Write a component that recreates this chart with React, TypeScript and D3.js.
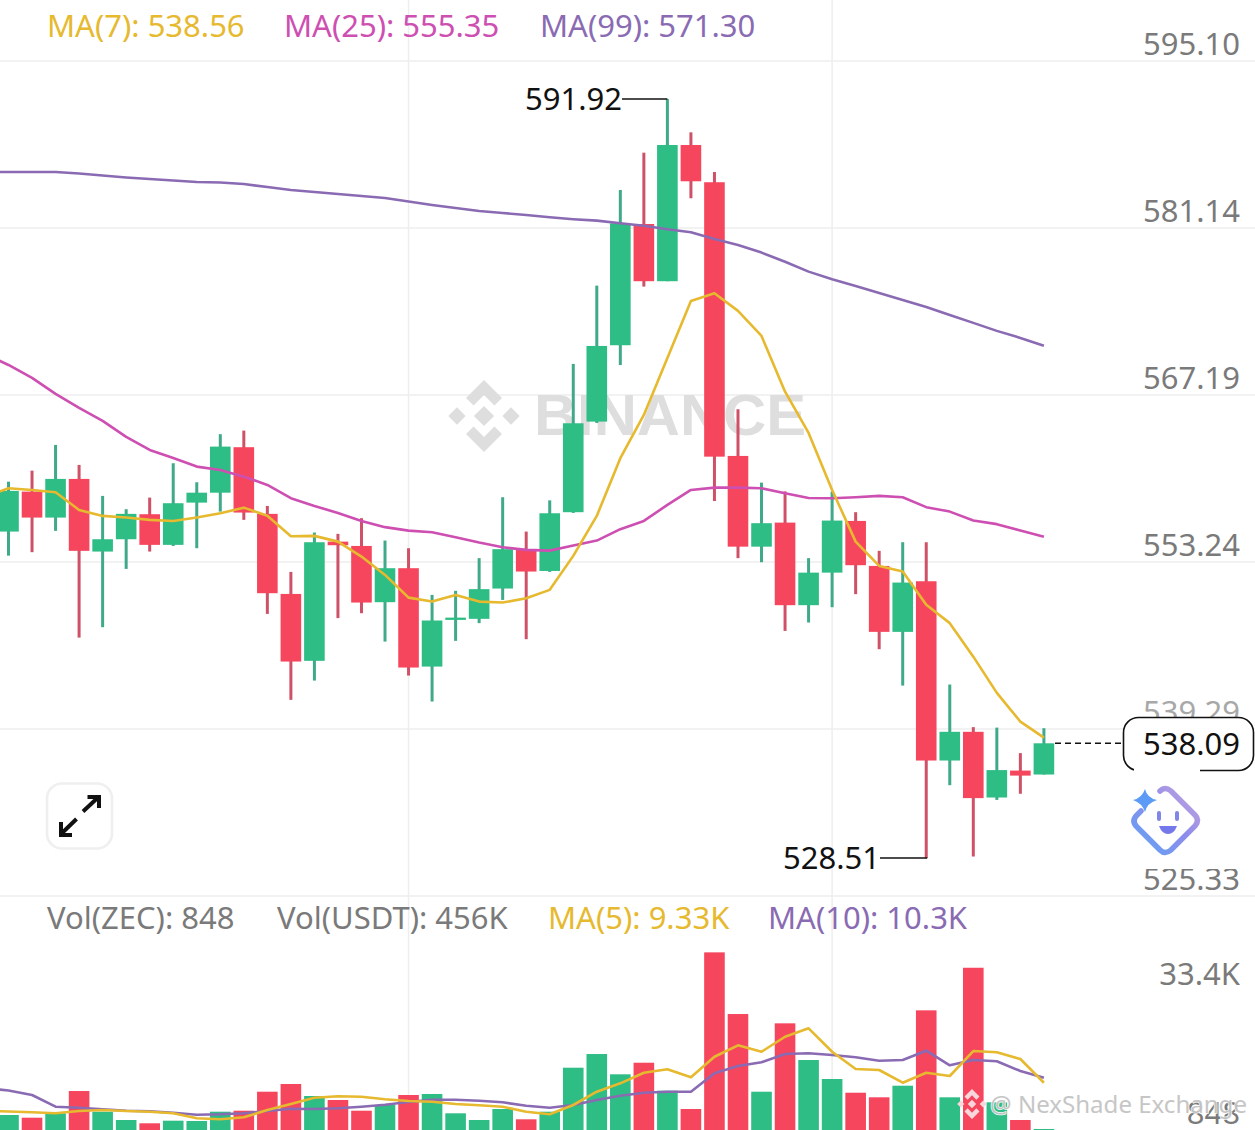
import React from "react";
import * as d3 from "d3";

// ---------- data ----------
const opens = [555.78,559.12,556.95,560.18,554.11,555.14,557.23,554.67,558.20,559.03,562.83,557.26,550.57,544.98,554.94,554.58,549.88,552.72,544.50,548.40,548.49,551.02,554.25,552.49,557.40,564.97,571.35,581.48,576.70,588.08,584.97,562.10,554.52,556.53,549.63,552.35,556.67,552.91,547.40,551.63,536.65,539.05,533.56,535.81,535.48];
const highs = [559.95,560.87,563.02,561.35,558.76,557.65,558.62,561.49,559.90,563.92,564.22,557.92,552.41,555.70,555.59,556.90,555.03,554.39,550.49,550.83,553.56,558.65,555.78,558.39,569.79,576.33,584.32,587.44,591.92,589.14,585.83,566.00,559.87,559.14,553.56,559.12,557.40,554.17,554.89,554.89,543.00,539.44,539.40,537.27,539.35];
const lows = [553.77,554.06,555.84,546.92,547.79,552.66,554.11,554.58,554.39,557.45,556.76,548.90,541.72,543.33,548.55,548.96,546.59,543.75,541.58,546.65,548.13,550.07,546.79,552.41,557.34,564.86,569.70,576.25,576.70,583.63,558.34,553.56,553.22,547.48,548.18,549.46,550.55,545.95,542.91,528.51,534.59,528.63,533.36,533.87,535.48];
const closes = [559.18,556.95,560.18,554.17,555.14,557.26,554.67,558.15,559.03,562.88,557.37,550.63,544.92,554.89,554.64,549.85,552.72,544.42,548.35,548.59,550.97,554.31,552.44,557.31,564.83,571.29,581.54,576.70,588.08,585.05,562.04,554.52,556.48,549.63,552.35,556.70,552.97,547.40,551.52,536.65,539.05,533.51,535.85,535.39,538.09];

// moving averages: the first value belongs to the candle just left of the frame
const ma7 = [558.67,559.40,559.26,559.07,557.59,557.09,556.95,556.76,556.67,556.95,557.31,557.78,557.11,555.39,555.42,554.94,553.69,552.16,550.26,549.93,550.49,549.93,549.85,550.21,550.91,553.75,557.09,561.91,565.53,570.29,575.05,575.70,574.22,572.13,567.47,564.02,559.26,554.94,552.91,552.44,549.66,548.13,545.33,542.30,539.90,538.56];
const ma25 = [570.62,569.70,568.62,567.28,566.11,565.03,563.69,562.60,561.93,561.21,560.93,560.37,559.68,558.57,557.92,557.34,556.67,556.15,555.86,555.73,555.31,554.86,554.47,554.25,554.19,554.61,555.03,555.98,556.67,558.01,559.26,559.45,559.45,559.40,558.99,558.59,558.57,558.65,558.76,558.65,557.82,557.45,556.70,556.40,555.86,555.35];
const ma99 = [585.83,585.83,585.83,585.83,585.70,585.53,585.37,585.24,585.12,584.99,584.95,584.82,584.57,584.32,584.16,583.99,583.82,583.65,583.36,583.07,582.82,582.57,582.40,582.23,582.04,581.88,581.76,581.54,581.34,581.04,580.79,580.23,579.73,579.09,578.33,577.50,576.86,576.31,575.72,575.13,574.55,573.88,573.22,572.55,571.96,571.30];

const volumes = [4150,3513,4551,9809,4928,2971,2193,2806,2735,4928,5164,9644,11460,8630,7687,5164,6508,8866,9102,4551,2971,5565,3136,4928,15303,18534,13747,16482,9880,5565,42515,27966,9644,25773,17119,12639,9408,8324,11059,28838,8324,38883,7145,2971,848];
const volMa5 = [5093,4975,4787,4551,5093,5329,5093,4928,4551,3372,3136,3608,5329,6744,8229,8560,8465,7852,7451,7286,6744,6437,6107,4928,4315,6508,9644,11625,14124,14926,13040,17897,20585,19076,22613,24594,19076,14997,14761,11766,14124,13346,19241,18935,17355,11766];
const volMa10 = [10517,9927,8866,6107,5871,5494,5164,5023,4692,4221,4315,4551,5093,5636,5565,5730,6107,6579,7215,7758,7758,7522,7145,6343,5871,6508,7687,8701,9408,9644,9644,13983,15704,16577,18534,18699,18298,17756,16954,17119,19312,15869,17119,16813,14525,12945];

const priceTicks = ["595.10","581.14","567.19","553.24","539.29","525.33"];
const volTicks = ["33.4K","848"];
const lastPrice = 538.09;
const highMark = 591.92;
const lowMark = 528.51;
const timeGridIndex = [17,35];

// ---------- palette ----------
const UP = "#2EBD85", DOWN = "#F6465D", UP_WICK = "#3FA98A", DOWN_WICK = "#CE5168";
const YEL = "#E6B92E", PNK = "#CE4FB2", PUR = "#8A6BB3", GRID = "#EEEEEE", AXIS = "#7A7A7A";
const FONT = "'Noto Sans', sans-serif";

// ---------- scales ----------
const x = d3.scaleLinear().domain([0, 44]).range([8.5, 1043.9]);
const y = d3.scaleLinear().domain([525.33, 595.1]).range([896, 61]);
const vy = d3.scaleLinear().domain([848, 33400]).range([1129, 991]);
const priceLine = d3.line<number>().x((_, i) => x(i - 1)).y((d) => y(d));
const volLine = d3.line<number>().x((_, i) => x(i - 1)).y((d) => vy(d));
const BODY = 20.6;

function BinanceLogo({ cx, cy, r, fill, opacity = 1 }: { cx: number; cy: number; r: number; fill: string; opacity?: number }) {
  const top = "0,-1 0.5,-0.5 0.29,-0.29 0,-0.58 -0.29,0 -0.29,-0.29 -0.5,-0.5".replace("-0.29,0 ", "");
  const bottom = "0,1 0.5,0.5 0.29,0.29 0,0.58 -0.29,0.29 -0.5,0.5";
  const dia = (a: number, b: number, s: number) => `${a},${b - s} ${a + s},${b} ${a},${b + s} ${a - s},${b}`;
  return (
    <g transform={`translate(${cx},${cy}) scale(${r})`} fill={fill} opacity={opacity}>
      <polygon points={top} />
      <polygon points={bottom} />
      <polygon points={dia(0, 0, 0.28)} />
      <polygon points={dia(-0.75, 0, 0.24)} />
      <polygon points={dia(0.75, 0, 0.24)} />
    </g>
  );
}

export default function App() {
  return (
    <svg
      width={1255}
      height={1130}
      viewBox="0 0 1255 1130"
      style={{ position: "absolute", left: 0, top: 0, display: "block", background: "#fff" }}
      fontFamily={FONT}
    >
      <defs>
        <clipPath id="cut525"><rect x={1100} y={869} width={155} height={40} /></clipPath>
        <linearGradient id="aiGrad" x1="0" y1="1" x2="1" y2="0">
          <stop offset="0" stopColor="#5FA4F5" />
          <stop offset="0.55" stopColor="#8E8CEB" />
          <stop offset="1" stopColor="#C9A6DC" />
        </linearGradient>
      </defs>

      {/* grid */}
      {priceTicks.map((t) => (
        <line key={t} x1={0} x2={1255} y1={y(+t)} y2={y(+t)} stroke={GRID} strokeWidth={1.5} />
      ))}
      {timeGridIndex.map((i) => (
        <line key={i} x1={x(i)} x2={x(i)} y1={0} y2={1130} stroke={GRID} strokeWidth={1.5} />
      ))}

      {/* watermark */}
      <BinanceLogo cx={484} cy={416} r={36} fill="#DEDEDE" />
      <text x={534} y={435} fontSize={57} fontWeight={700} fill="#DEDEDE" textLength={272} lengthAdjust="spacingAndGlyphs" fontFamily="'Liberation Sans', sans-serif">BINANCE</text>

      {/* candles */}
      {opens.map((o, i) => {
        const c = closes[i];
        const up = c >= o;
        const top = y(Math.max(o, c));
        const bottom = y(Math.min(o, c));
        return (
          <g key={i}>
            <line x1={x(i)} x2={x(i)} y1={y(highs[i])} y2={y(lows[i])} stroke={up ? UP_WICK : DOWN_WICK} strokeWidth={3} />
            <rect x={x(i) - BODY / 2} y={top} width={BODY} height={Math.max(bottom - top, 2)} fill={up ? UP : DOWN} />
          </g>
        );
      })}

      {/* price moving averages */}
      <path d={priceLine(ma99) ?? ""} fill="none" stroke={PUR} strokeWidth={2.6} strokeLinejoin="round" />
      <path d={priceLine(ma25) ?? ""} fill="none" stroke={PNK} strokeWidth={2.6} strokeLinejoin="round" />
      <path d={priceLine(ma7) ?? ""} fill="none" stroke={YEL} strokeWidth={2.6} strokeLinejoin="round" />

      {/* volume */}
      {volumes.map((v, i) => (
        <rect key={i} x={x(i) - BODY / 2} y={vy(v)} width={BODY} height={Math.max(1135 - vy(v), 0)} fill={closes[i] >= opens[i] ? UP : DOWN} />
      ))}
      <path d={volLine(volMa10) ?? ""} fill="none" stroke={PUR} strokeWidth={2.6} strokeLinejoin="round" />
      <path d={volLine(volMa5) ?? ""} fill="none" stroke={YEL} strokeWidth={2.6} strokeLinejoin="round" />

      {/* price axis labels */}
      {priceTicks.map((t) => (
        <text
          key={t}
          x={1240}
          y={y(+t) - 6}
          textAnchor="end"
          fontSize={31}
          fill={t === "539.29" ? "#A8A8A8" : AXIS}
          clipPath={t === "525.33" ? "url(#cut525)" : undefined}
        >
          {t}
        </text>
      ))}

      {/* volume axis labels */}
      <text x={1240} y={985} textAnchor="end" fontSize={31} fill={AXIS}>{volTicks[0]}</text>
      <text x={1240} y={1124} textAnchor="end" fontSize={31} fill={AXIS}>{volTicks[1]}</text>

      {/* legends */}
      <text x={47} y={37} fontSize={31} fill={YEL}>MA(7): 538.56</text>
      <text x={284} y={37} fontSize={31} fill={PNK}>MA(25): 555.35</text>
      <text x={540} y={37} fontSize={31} fill={PUR}>MA(99): 571.30</text>
      <text x={47} y={929} fontSize={31} fill={AXIS}>Vol(ZEC): 848</text>
      <text x={277} y={929} fontSize={31} fill={AXIS}>Vol(USDT): 456K</text>
      <text x={548} y={929} fontSize={31} fill={YEL}>MA(5): 9.33K</text>
      <text x={768} y={929} fontSize={31} fill={PUR}>MA(10): 10.3K</text>

      {/* high and low markers */}
      <line x1={622} x2={x(28)} y1={y(highMark)} y2={y(highMark)} stroke="#111" strokeWidth={1.6} />
      <text x={622} y={y(highMark) + 11} textAnchor="end" fontSize={31} fill="#111">{highMark.toFixed(2)}</text>
      <line x1={880} x2={x(39) + 1} y1={y(lowMark)} y2={y(lowMark)} stroke="#111" strokeWidth={1.6} />
      <text x={880} y={y(lowMark) + 11} textAnchor="end" fontSize={31} fill="#111">{lowMark.toFixed(2)}</text>

      {/* last price */}
      <line x1={1055} x2={1123} y1={y(lastPrice)} y2={y(lastPrice)} stroke="#111" strokeWidth={1.6} strokeDasharray="6 4" />
      <rect x={1123.5} y={717.5} width={130} height={53} rx={15} fill="#fff" stroke="#111" strokeWidth={1.6} />
      <rect x={1134} y={767} width={66} height={6} fill="#fff" />
      <text x={1240} y={755} textAnchor="end" fontSize={31} fill="#111">{lastPrice.toFixed(2)}</text>

      {/* expand button */}
      <rect x={47} y={783.5} width={65} height={65} rx={15} fill="#fff" stroke="#EFEFEF" strokeWidth={2.6} />
      <g stroke="#111" strokeWidth={4} fill="none" strokeLinecap="butt">
        <path d="M83 811.5 L98.5 797" />
        <path d="M87.5 797 H99 V808" />
        <path d="M76.5 819 L61 834" />
        <path d="M61 822 V835 H72" />
      </g>

      {/* assistant icon */}
      <g>
        <path
          d="M1160 791 Q1165 786 1171 791 L1195 815 Q1200 820 1195 826 L1171 850 Q1165 855 1160 850 L1137 827 Q1131 821 1137 815 L1141 811"
          fill="none"
          stroke="url(#aiGrad)"
          strokeWidth={5.5}
          strokeLinecap="round"
          transform="translate(0,0)"
        />
        <path d="M1145 789 Q1147 798 1157 800 Q1147 803 1145 812 Q1142 803 1133 800 Q1142 798 1145 789 Z" fill="#5C9CF6" />
        <rect x={1157} y={811} width={4} height={10} rx={2} fill="#7F86E8" />
        <rect x={1175} y={811} width={4} height={10} rx={2} fill="#7F86E8" />
        <path d="M1159 826 H1177 Q1174 834 1168 834 Q1162 834 1159 826 Z" fill="#7478EA" />
      </g>

      {/* source watermark */}
      <BinanceLogo cx={972} cy={1104} r={15} fill="#F8D6DC" />
      <text
        x={990}
        y={1113}
        fontSize={24}
        fill="#C4C4C4"
        stroke="#FFFFFF"
        strokeWidth={1.4}
        paintOrder="stroke"
        textLength={257}
        lengthAdjust="spacingAndGlyphs"
        opacity={0.95}
      >
        @ NexShade Exchange
      </text>
    </svg>
  );
}
